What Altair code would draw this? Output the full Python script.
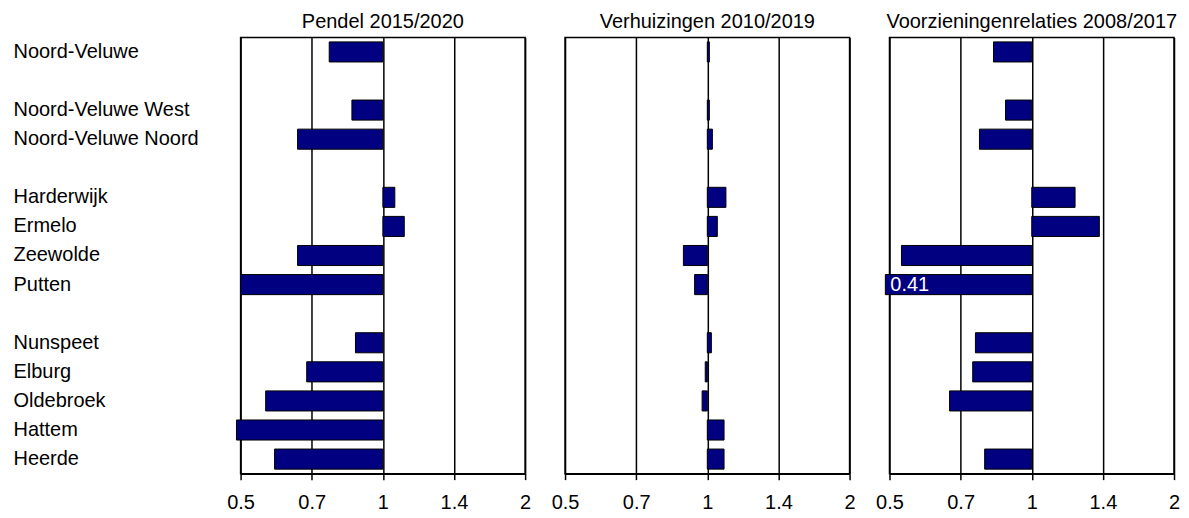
import altair as alt
import pandas as pd

regions = ["Noord-Veluwe", " ", "Noord-Veluwe West", "Noord-Veluwe Noord", "  ",
           "Harderwijk", "Ermelo", "Zeewolde", "Putten", "   ",
           "Nunspeet", "Elburg", "Oldebroek", "Hattem", "Heerde"]

panel_titles = ["Pendel 2015/2020", "Verhuizingen 2010/2019", "Voorzieningenrelaties 2008/2017"]

pendel = [0.77, None, 0.86, 0.66, None, 1.06, 1.11, 0.66, 0.50, None, 0.875, 0.69, 0.565, 0.49, 0.59]
verhuizingen = [1.01, None, 1.01, 1.025, None, 1.095, 1.05, 0.89, 0.94, None, 1.02, 0.99, 0.975, 1.085, 1.085]
voorzieningen = [0.83, None, 0.88, 0.775, None, 1.235, 1.39, 0.53, 0.41, None, 0.76, 0.75, 0.67, None, 0.795]

tick_values = [0.5, 0.7071, 1, 1.4142, 2]
tick_labels = ["0.5", "0.7", "1", "1.4", "2"]

FONT = "Liberation Sans"
NAVY = "#000080"
FS = 20

label_expr = ""
for i, (v, lab) in enumerate(zip(tick_values, tick_labels)):
    if i < len(tick_values) - 1:
        mid = (v + tick_values[i + 1]) / 2
        label_expr += f"datum.value < {mid} ? '{lab}' : "
    else:
        label_expr += f"'{lab}'"


def panel(title, values, show_y):
    df = pd.DataFrame({"regio": regions, "waarde": values}).dropna()
    base = alt.Chart(df).transform_calculate(
        disp="max(datum.waarde, 0.49)", een="1"
    )
    xscale = alt.Scale(type="log", base=2, domain=[0.5, 2], nice=False)
    yscale = alt.Scale(domain=regions, paddingInner=0.31, paddingOuter=0.155)
    if show_y:
        yaxis = alt.Axis(title=None, domain=False, ticks=False, grid=False,
                         labelAlign="left", labelPadding=228, labelFontSize=FS,
                         labelFont=FONT, labelColor="black", labelLimit=300)
    else:
        yaxis = None
    xaxis = alt.Axis(title=None, values=tick_values, labelExpr=label_expr,
                     grid=True, gridColor="black", gridWidth=1.5, gridOpacity=1,
                     domainColor="black", domainWidth=1.5, tickColor="black",
                     tickWidth=1.5, tickSize=6, labelPadding=13, labelFontSize=FS,
                     labelFont=FONT, labelColor="black", labelFlush=False)
    bars = base.mark_bar(color=NAVY, stroke="black", strokeWidth=1, clip=False).encode(
        x=alt.X("disp:Q", scale=xscale, axis=xaxis),
        x2="een:Q",
        y=alt.Y("regio:N", scale=yscale, axis=yaxis, sort=regions),
    )
    labels = base.transform_filter("datum.waarde < 0.45").mark_text(
        align="left", baseline="middle", dx=5, color="white", fontSize=FS, font=FONT, clip=False
    ).encode(
        x=alt.X("disp:Q", scale=xscale),
        y=alt.Y("regio:N", scale=yscale, sort=regions),
        text=alt.Text("waarde:Q", format=".2f"),
    )
    return alt.layer(bars, labels).properties(
        width=285, height=437,
        title=alt.TitleParams(title, anchor="middle", fontSize=FS, font=FONT,
                              fontWeight="normal", color="black", offset=5),
    )


chart = alt.hconcat(
    panel(panel_titles[0], pendel, True),
    panel(panel_titles[1], verhuizingen, False),
    panel(panel_titles[2], voorzieningen, False),
    spacing=40,
    bounds="flush",
).properties(
    padding={"left": 4, "top": 3, "right": 0, "bottom": 0}
).configure_view(
    stroke="black", strokeWidth=1.5
)

chart.save("out.html", embed_options={"renderer": "svg", "actions": False})
